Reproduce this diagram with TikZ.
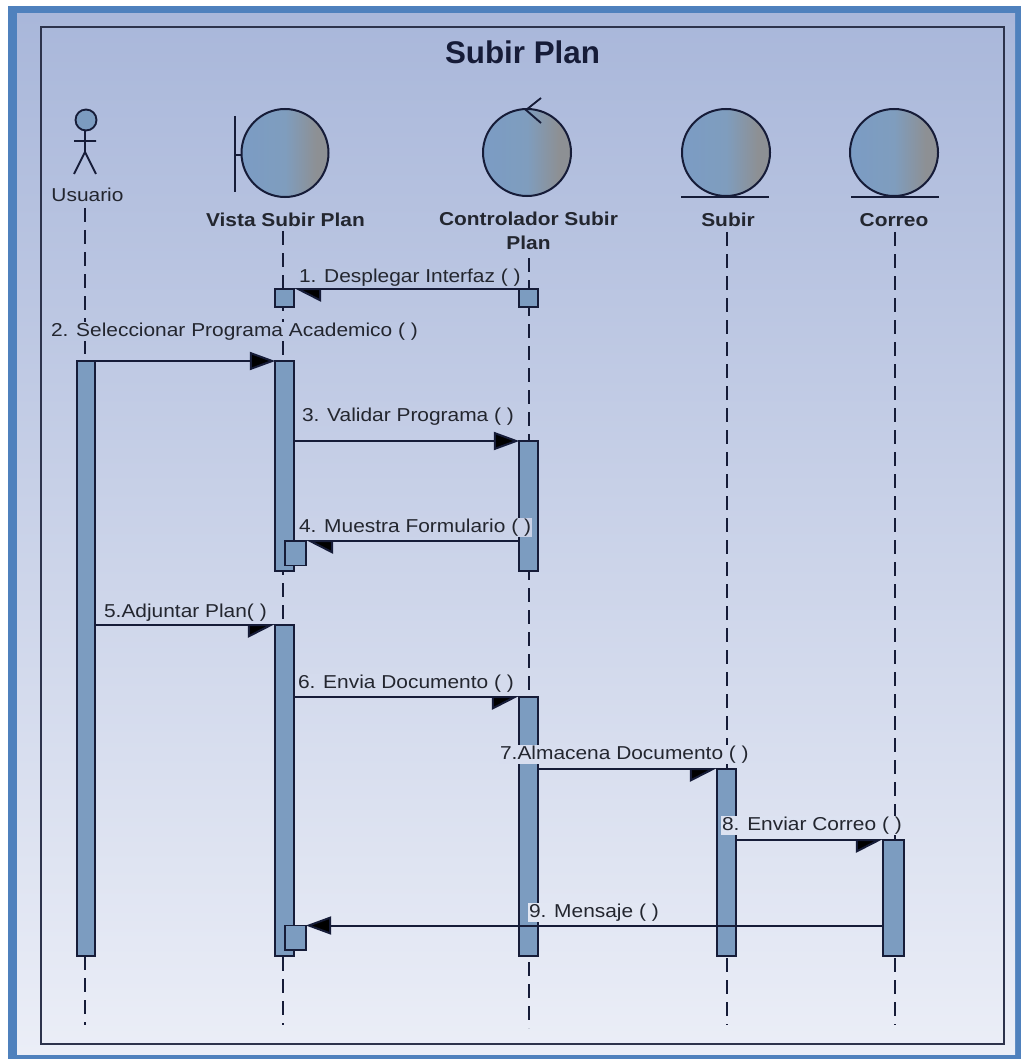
\documentclass[tikz,border=0pt]{standalone}
\usepackage{fontspec}
\setmainfont[FakeStretch=1.12]{Liberation Sans}
\newfontfamily\titlefont{Liberation Sans}
\usetikzlibrary{arrows.meta}
\definecolor{frameblue}{HTML}{4F81BD}
\definecolor{bgtop}{HTML}{A9B7DA}
\definecolor{bgbot}{HTML}{EBEEF7}
\definecolor{ink}{HTML}{161C38}
\definecolor{txt}{HTML}{23262F}
\definecolor{barfill}{HTML}{7C9CC0}
\definecolor{c1}{HTML}{7B9CC4}
\definecolor{c2}{HTML}{7F9DBE}
\definecolor{c3}{HTML}{8D9094}
\pgfdeclarehorizontalshading{bluegray}{100bp}{color(0bp)=(c1); color(25bp)=(c1); color(50bp)=(c2); color(68bp)=(c3); color(100bp)=(c3)}
\tikzset{
  outline/.style={draw=ink,line width=1.5pt},
  icon/.style={outline,shading=bluegray},
  iconline/.style={draw=ink,line width=1.4pt},
  lifeline/.style={draw=ink,line width=1.5pt,dash pattern=on 10.5pt off 6pt},
  act/.style={rectangle,draw=ink,line width=1.4pt,fill=barfill,inner sep=0pt,outer sep=0pt,minimum width=14pt},
  nest/.style={act,minimum width=15.5pt},
  msg/.style={draw=ink,line width=1.5pt},
  full/.style={msg,-{Triangle[length=19pt,width=13.5pt,fill=black]}},
  halfright/.style={msg,-{Triangle[length=19pt,width=19pt,right,fill=black]}},
  halfleft/.style={msg,-{Triangle[length=19pt,width=19pt,left,fill=black]}},
  headlabel/.style={font=\fontsize{14}{18}\selectfont\bfseries,text=txt,align=center,inner sep=0pt},
  msglabel/.style={font=\fontsize{14}{18}\selectfont,text=txt,anchor=base west,inner sep=0.6pt}
}
\begin{document}
\begin{tikzpicture}[x=0.75pt,y=-0.75pt]
\useasboundingbox (0,0) rectangle (1021,1059);
% frame and background
\fill[frameblue] (8,6) rectangle (1021,1059);
\shade[top color=bgtop,bottom color=bgbot] (17,14) rectangle (1015,1054);
\draw[draw=ink!90!white,line width=1.5pt] (41,27) rectangle (1004,1043.5);
\node[font=\fontsize{23.5}{28}\titlefont\bfseries,text=ink,inner sep=0pt] (title) at (522.5,52) {Subir Plan};
% actor
\draw[outline,fill=barfill,line width=1.4pt] (86,120) circle (10.5);
\draw[iconline] (85,130.5) -- (85,152) (74,141) -- (96,141) (74,174) -- (85,152) -- (96,174);
\node[headlabel,font=\fontsize{14}{18}\selectfont] (usuario) at (87.5,195) {Usuario};
% boundary
\draw[iconline] (235,116) -- (235,192) (235,155) -- (243,155);
\path[icon] (285,153) ellipse (43.5 and 44);
\node[headlabel] (vista) at (285.5,220) {Vista Subir Plan};
% control
\path[icon] (527,152.5) ellipse (44 and 43.5);
\draw[iconline] (541,98) -- (526,110) -- (541,123);
\node[headlabel,anchor=north] (control) at (528.5,212) {Controlador Subir\\[0pt]Plan};
% entities
\path[icon] (726,152.5) ellipse (44 and 43.5);
\draw[iconline] (681,197) -- (768.5,197);
\node[headlabel] (subir) at (728,220) {Subir};
\path[icon] (894,152.5) ellipse (44 and 43.5);
\draw[iconline] (851,197) -- (939,197);
\node[headlabel] (correo) at (894,220) {Correo};
% lifelines
\coordinate (ut) at (85,208); \coordinate (ue) at (85,1025);
\coordinate (vt) at (283,231); \coordinate (ve) at (283,1025);
\coordinate (ct) at (529,258); \coordinate (ce) at (529,1028);
\coordinate (st) at (727,232); \coordinate (se) at (727,1025);
\coordinate (kt) at (895,232); \coordinate (ke) at (895,1025);
\draw[lifeline] (ut) -- (ue);
\draw[lifeline] (vt) -- (ve);
\draw[lifeline] (ct) -- (ce);
\draw[lifeline] (st) -- (se);
\draw[lifeline] (kt) -- (ke);
% activations
\node[act,minimum height=13.5pt] (v0) at (284.5,298) {};
\node[act,minimum height=13.5pt] (c0) at (528.5,298) {};
\node[act,minimum height={(956-361)*0.75pt}] (u1) at (86,{(956+361)/2}) {};
\node[act,minimum height={(571-361)*0.75pt}] (v1) at (284.5,{(571+361)/2}) {};
\node[nest,minimum height={(565.5-541)*0.75pt}] (n1) at (295.5,{(565.5+541)/2}) {};
\node[act,minimum height={(956-625)*0.75pt}] (v2) at (284.5,{(956+625)/2}) {};
\node[nest,minimum height={(950-925.5)*0.75pt}] (n2) at (295.5,{(950+925.5)/2}) {};
\node[act,minimum height={(571-441)*0.75pt}] (c1n) at (528.5,{(571+441)/2}) {};
\node[act,minimum height={(956-697)*0.75pt}] (c2n) at (528.5,{(956+697)/2}) {};
\node[act,minimum height={(956-769)*0.75pt}] (s1) at (726.5,{(956+769)/2}) {};
\node[act,minimum width=15.5pt,minimum height={(956-840)*0.75pt}] (k1) at (893.5,{(956+840)/2}) {};
% messages
\draw[halfleft] (c0.north west) -- (v0.north east);
\draw[full] (u1.north east) -- (v1.north west);
\draw[full] (v1.east |- c1n.north) -- (c1n.north west);
\draw[halfleft] (c1n.west |- n1.north) -- (n1.north east);
\draw[halfright] (u1.east |- v2.north) -- (v2.north west);
\draw[halfright] (v2.east |- c2n.north) -- (c2n.north west);
\draw[halfright] (c2n.east |- s1.north) -- (s1.north west);
\draw[halfright] (s1.east |- k1.north) -- (k1.north west);
\draw[full] (k1.west |- n2.north) -- (n2.north east);
% message labels
\node[msglabel,fill=bgbot!25!bgtop] (m1) at (298,282) {1. Desplegar Interfaz ( )};
\node[msglabel,fill=bgbot!31!bgtop] (m2) at (50,336) {2. Seleccionar Programa Academico ( )};
\node[msglabel,fill=bgbot!39!bgtop] (m3) at (301,421) {3. Validar Programa ( )};
\node[msglabel,fill=bgbot!50!bgtop] (m4) at (298,532) {4. Muestra Formulario ( )};
\node[msglabel,fill=bgbot!58!bgtop] (m5) at (103,617) {5.Adjuntar Plan( )};
\node[msglabel,fill=bgbot!65!bgtop] (m6) at (297,688) {6. Envia Documento ( )};
\node[msglabel,fill=bgbot!71!bgtop] (m7) at (499,759) {7.Almacena Documento ( )};
\node[msglabel,fill=bgbot!78!bgtop] (m8) at (721,830) {8. Enviar Correo ( )};
\node[msglabel,fill=bgbot!87!bgtop] (m9) at (528,917) {9. Mensaje ( )};
\end{tikzpicture}
\end{document}
